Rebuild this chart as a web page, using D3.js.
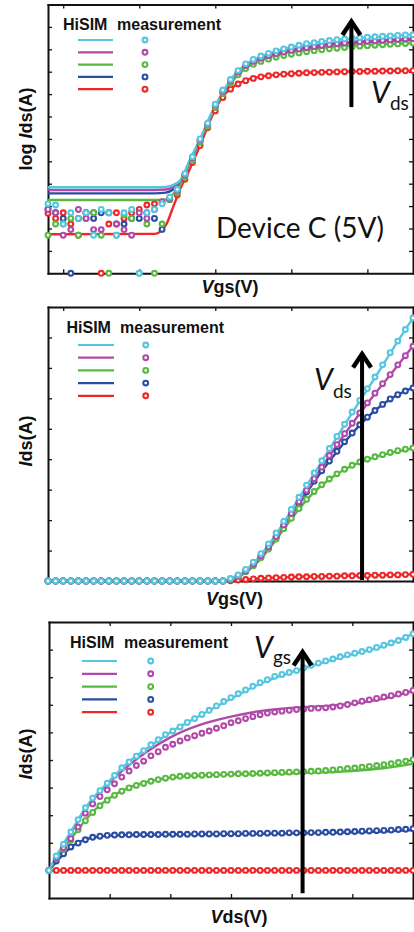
<!DOCTYPE html>
<html>
<head>
<meta charset="utf-8">
<script src="https://cdn.jsdelivr.net/npm/d3@7"></script>
<style>
body { margin: 0; background: #fff; }
svg { display: block; }
.lbl { font-family: 'Liberation Sans', Arial, sans-serif; font-weight: bold; fill: #111; }
.anno { font-family: Lato, 'Open Sans', sans-serif; fill: #111; }
</style>
</head>
<body>
<svg id="chart" width="414" height="932"></svg>
<script>
// series order: legend order top to bottom
var seriesColors = ['#55c6df', '#b04aa9', '#58b940', '#2a4ca2', '#ee2828'];

// ---- panel 1: log Ids vs Vgs (y in decades above the frame bottom) ----
var vgsSweep = [-0.2, -0.1, 0, 0.1, 0.2, 0.3, 0.4, 0.5, 0.6, 0.7, 0.8, 0.9, 1, 1.1, 1.2, 1.3, 1.4, 1.5, 1.6, 1.7,
	1.8, 1.9, 2, 2.1, 2.2, 2.3, 2.4, 2.5, 2.6, 2.7, 2.8, 2.9, 3, 3.1, 3.2, 3.3, 3.4, 3.5, 3.6, 3.7, 3.8, 3.9,
	4, 4.1, 4.2, 4.3, 4.4, 4.5, 4.6];

var logMeasCyan = [3.1, 3.05, 2.2, 2.7, 2.45, 2.7, 1.7, 2.85, 2.7, 1.7, 2.7, 2.85, 0, 2.7, 2.85, 3.1,
	3.4, 3.75, 4.45, 5.2, 6.0, 6.7, 7.55, 8.18, 8.65, 9.05, 9.35, 9.55, 9.7, 9.82, 9.93, 10.02, 10.1, 10.18,
	10.25, 10.3, 10.35, 10.39, 10.43, 10.46, 10.49, 10.52, 10.54, 10.56, 10.58, 10.6, 10.62, 10.64, 10.65];
var logMeasMagenta = [2.85, 2.7, 1.7, 1.95, 2.85, 2.45, 1.95, 1.95, 2.7, 2.2, 1.95, 1.7, 2.7, 2.45, 2.85, 3.2,
	3.35, 3.7, 4.4, 5.15, 5.95, 6.65, 7.5, 8.12, 8.58, 8.98, 9.27, 9.46, 9.6, 9.71, 9.8, 9.88, 9.95, 10.01,
	10.07, 10.12, 10.17, 10.21, 10.25, 10.28, 10.31, 10.34, 10.36, 10.38, 10.4, 10.42, 10.44, 10.46, 10.47];
var logMeasGreen = [1.7, 2.2, 2.2, 2.45, 1.7, 2.45, 2.7, 1.7, 0, 1.7, 2.6, 2.45, 0, 2.2, 0, 2.2,
	3.3, 3.6, 4.3, 5.05, 5.85, 6.55, 7.4, 8.02, 8.48, 8.86, 9.14, 9.33, 9.46, 9.56, 9.65, 9.72, 9.78, 9.84,
	9.89, 9.94, 9.98, 10.02, 10.05, 10.08, 10.11, 10.14, 10.16, 10.18, 10.2, 10.22, 10.24, 10.26, 10.28];
var logMeasBlue = [2.85, 2.7, 2.45, 0, 2.45, 2.7, 2.45, 2.7, 2.7, 2.2, 2.2, 2.45, 2.45, 2.7, 2.45, 1.96,
	3.3, 3.65, 4.38, 5.12, 5.92, 6.62, 7.46, 8.08, 8.54, 8.94, 9.23, 9.42, 9.56, 9.67, 9.77, 9.85, 9.92, 9.98,
	10.04, 10.09, 10.14, 10.18, 10.22, 10.25, 10.28, 10.31, 10.33, 10.35, 10.37, 10.39, 10.41, 10.43, 10.44];
var logMeasRed = [2.68, 2.45, 2.7, 2.2, 1.7, 2.7, 2.7, 0, 2.2, 2.7, 2.45, 2.7, 2.85, 3.05, 3.1, 3.15,
	3.3, 3.5, 4.2, 4.95, 5.7, 6.5, 7.25, 7.85, 8.22, 8.45, 8.6, 8.7, 8.77, 8.82, 8.86, 8.89, 8.91, 8.93,
	8.95, 8.96, 8.97, 8.98, 8.99, 9.0, 9.01, 9.01, 9.02, 9.02, 9.03, 9.03, 9.04, 9.04, 9.05];

var logModelVgs = [-0.2, 1.2, 1.35, 1.45, 1.55, 1.65, 1.8, 1.95, 2.1, 2.25, 2.4, 2.6, 2.85, 3.2, 3.6, 4.1, 4.6];
var logModelCyan = [3.84, 3.84, 3.86, 3.95, 4.2, 4.95, 6.0, 7.15, 8.1, 8.85, 9.32, 9.68, 9.97, 10.23, 10.42, 10.55, 10.66];
var logModelMagenta = [3.72, 3.72, 3.74, 3.85, 4.15, 4.9, 5.95, 7.1, 8.05, 8.78, 9.25, 9.6, 9.88, 10.1, 10.28, 10.38, 10.46];
var logModelGreen = [3.27, 3.27, 3.3, 3.55, 4.0, 4.82, 5.9, 7.05, 7.98, 8.68, 9.15, 9.5, 9.77, 9.97, 10.12, 10.21, 10.28];
var logModelBlue = [3.57, 3.57, 3.6, 3.75, 4.1, 4.88, 5.95, 7.1, 8.03, 8.75, 9.22, 9.57, 9.85, 10.07, 10.25, 10.35, 10.44];
var logModelRed = [1.74, 1.76, 2.15, 3.0, 3.85, 4.55, 5.7, 6.95, 7.9, 8.35, 8.62, 8.78, 8.88, 8.95, 9.0, 9.03, 9.05];

// ---- panel 2: linear Ids vs Vgs ----
var linMeasCyan = [0, 0, 0, 0, 0, 0, 0, 0, 0, 0, 0, 0, 0, 0, 0, 0, 0, 0, 0, 0, 0, 0, 0, 0,
	0.08, 0.2, 0.38, 0.62, 0.9, 1.22, 1.58, 1.96, 2.35, 2.75, 3.15, 3.55, 3.95, 4.35, 4.75, 5.15, 5.55, 5.93,
	6.32, 6.7, 7.1, 7.5, 7.88, 8.26, 8.64];
var linMeasMagenta = [0, 0, 0, 0, 0, 0, 0, 0, 0, 0, 0, 0, 0, 0, 0, 0, 0, 0, 0, 0, 0, 0, 0, 0,
	0.06, 0.17, 0.33, 0.55, 0.82, 1.12, 1.46, 1.84, 2.22, 2.6, 2.98, 3.36, 3.74, 4.12, 4.48, 4.84, 5.18, 5.52,
	5.85, 6.17, 6.48, 6.78, 7.1, 7.4, 7.71];
var linMeasGreen = [0, 0, 0, 0, 0, 0, 0, 0, 0, 0, 0, 0, 0, 0, 0, 0, 0, 0, 0, 0, 0, 0, 0, 0,
	0.05, 0.15, 0.3, 0.5, 0.76, 1.05, 1.38, 1.72, 2.06, 2.38, 2.68, 2.94, 3.16, 3.35, 3.52, 3.67, 3.8, 3.91,
	4.0, 4.08, 4.15, 4.22, 4.28, 4.33, 4.37];
var linMeasBlue = [0, 0, 0, 0, 0, 0, 0, 0, 0, 0, 0, 0, 0, 0, 0, 0, 0, 0, 0, 0, 0, 0, 0, 0,
	0.06, 0.16, 0.32, 0.53, 0.8, 1.1, 1.44, 1.8, 2.17, 2.55, 2.92, 3.28, 3.62, 3.94, 4.26, 4.57, 4.86, 5.13,
	5.38, 5.6, 5.8, 5.98, 6.12, 6.24, 6.34];
var linMeasRed = [0, 0, 0, 0, 0, 0, 0, 0, 0, 0, 0, 0, 0, 0, 0, 0, 0, 0, 0, 0, 0, 0, 0, 0,
	0.01, 0.03, 0.05, 0.07, 0.09, 0.1, 0.11, 0.12, 0.13, 0.14, 0.14, 0.15, 0.15, 0.16, 0.16, 0.17, 0.17, 0.18,
	0.18, 0.19, 0.19, 0.2, 0.2, 0.21, 0.22];

var linModelVgs = [-0.2, 2.1, 2.3, 2.5, 2.7, 2.9, 3.1, 3.3, 3.5, 3.7, 3.9, 4.1, 4.3, 4.6];
var linModelCyan = [0, 0, 0.17, 0.58, 1.18, 1.92, 2.72, 3.52, 4.33, 5.13, 5.91, 6.68, 7.48, 8.64];
var linModelMagenta = [0, 0, 0.15, 0.52, 1.09, 1.8, 2.57, 3.34, 4.1, 4.82, 5.5, 6.15, 6.77, 7.72];
var linModelGreen = [0, 0, 0.13, 0.48, 1.03, 1.7, 2.36, 2.92, 3.34, 3.66, 3.9, 4.07, 4.2, 4.36];
var linModelBlue = [0, 0, 0.14, 0.5, 1.07, 1.77, 2.52, 3.26, 3.93, 4.56, 5.12, 5.6, 5.97, 6.35];
var linModelRed = [0, 0, 0.03, 0.07, 0.1, 0.12, 0.14, 0.15, 0.16, 0.17, 0.18, 0.19, 0.2, 0.22];

// ---- panel 3: Ids vs Vds ----
var vdsSweep = [0, 0.12, 0.24, 0.36, 0.48, 0.6, 0.72, 0.84, 0.96, 1.08, 1.2, 1.32, 1.44, 1.56, 1.68, 1.8,
	1.92, 2.04, 2.16, 2.28, 2.4, 2.52, 2.64, 2.76, 2.88, 3, 3.12, 3.24, 3.36, 3.48, 3.6, 3.72, 3.84, 3.96,
	4.08, 4.2, 4.32, 4.44, 4.56, 4.68, 4.8, 4.92, 5.04, 5.16, 5.28, 5.4, 5.52, 5.64, 5.76, 5.88, 6];

var outMeasCyan = [0, 0.52, 0.95, 1.39, 1.84, 2.27, 2.62, 2.89, 3.16, 3.44, 3.72, 3.93, 4.14, 4.34, 4.55, 4.74,
	4.92, 5.05, 5.2, 5.36, 5.5, 5.65, 5.8, 5.96, 6.12, 6.26, 6.4, 6.54, 6.67, 6.8, 6.91, 7.03, 7.1, 7.17,
	7.24, 7.34, 7.43, 7.51, 7.59, 7.66, 7.74, 7.81, 7.87, 7.93, 8.0, 8.08, 8.16, 8.24, 8.33, 8.44, 8.57];
var outMeasMagenta = [0, 0.45, 0.82, 1.15, 1.57, 2.07, 2.41, 2.68, 2.92, 3.14, 3.38, 3.6, 3.8, 3.96, 4.15, 4.3,
	4.46, 4.57, 4.69, 4.8, 4.88, 4.97, 5.05, 5.15, 5.24, 5.35, 5.42, 5.5, 5.57, 5.64, 5.7, 5.74, 5.77, 5.8,
	5.83, 5.85, 5.87, 5.88, 5.89, 5.92, 5.96, 6.01, 6.07, 6.13, 6.18, 6.23, 6.28, 6.33, 6.39, 6.45, 6.52];
var outMeasGreen = [0, 0.42, 0.76, 1.09, 1.47, 1.8, 2.1, 2.34, 2.54, 2.72, 2.87, 2.99, 3.08, 3.15, 3.23, 3.29,
	3.34, 3.38, 3.41, 3.43, 3.44, 3.45, 3.46, 3.47, 3.48, 3.49, 3.5, 3.5, 3.51, 3.52, 3.53, 3.54, 3.55, 3.56,
	3.57, 3.58, 3.59, 3.6, 3.62, 3.64, 3.66, 3.69, 3.71, 3.74, 3.77, 3.8, 3.83, 3.87, 3.91, 3.96, 4.01];
var outMeasBlue = [0, 0.34, 0.6, 0.85, 0.99, 1.11, 1.2, 1.24, 1.27, 1.28, 1.29, 1.29, 1.3, 1.3, 1.3, 1.3,
	1.31, 1.31, 1.31, 1.31, 1.32, 1.32, 1.32, 1.32, 1.33, 1.33, 1.33, 1.34, 1.34, 1.34, 1.35, 1.35, 1.35, 1.36,
	1.36, 1.36, 1.37, 1.37, 1.38, 1.38, 1.39, 1.4, 1.41, 1.42, 1.43, 1.44, 1.45, 1.46, 1.48, 1.49, 1.51];
var outMeasRed = [0, 0, 0, 0, 0, 0, 0, 0, 0, 0, 0, 0, 0, 0, 0, 0, 0, 0, 0, 0, 0, 0, 0, 0, 0, 0,
	0, 0, 0, 0, 0, 0, 0, 0, 0, 0, 0, 0, 0, 0, 0, 0, 0, 0, 0, 0, 0, 0, 0, 0, 0];

var outModelVds = [0, 0.2, 0.4, 0.6, 0.8, 1.0, 1.3, 1.6, 2.0, 2.5, 3.0, 3.5, 4.0, 4.5, 5.0, 5.5, 6.0];
var outModelCyan = [0, 0.82, 1.55, 2.26, 2.8, 3.25, 3.9, 4.4, 5.0, 5.62, 6.22, 6.78, 7.18, 7.52, 7.83, 8.12, 8.57];
var outModelMagenta = [0, 0.8, 1.5, 2.2, 2.75, 3.2, 3.78, 4.28, 4.82, 5.28, 5.57, 5.78, 5.89, 5.95, 6.04, 6.22, 6.5];
var outModelGreen = [0, 0.68, 1.25, 1.82, 2.28, 2.62, 2.98, 3.2, 3.36, 3.44, 3.48, 3.5, 3.52, 3.55, 3.6, 3.7, 3.86];
var outModelBlue = [0, 0.5, 0.9, 1.12, 1.22, 1.26, 1.28, 1.29, 1.3, 1.31, 1.32, 1.33, 1.34, 1.36, 1.38, 1.41, 1.46];
var outModelRed = [0, 0, 0, 0, 0, 0, 0, 0, 0, 0, 0, 0, 0, 0, 0, 0, 0];

// panel layout
var panels = [
	{
		left: 48, right: 413, top: 4.5, bottom: 273.3,
		xDomain: [-0.2, 4.6], yDomain: [0, 12],
		xTicks: [0, 1, 2, 3, 4], yTicks: [1, 2, 3, 4, 5, 6, 7, 8, 9, 10, 11],
		sweep: vgsSweep,
		meas: [logMeasCyan, logMeasMagenta, logMeasGreen, logMeasBlue, logMeasRed],
		modelX: logModelVgs,
		model: [logModelCyan, logModelMagenta, logModelGreen, logModelBlue, logModelRed],
		xLabel: { x: 230, y: 293, sub: 'gs(V)', main: 'V' },
		yLabel: { x: 31.5, y: 129, pre: 'log ' },
		legend: { x: 63, mx: 117, y: 29.5, first: 10.5, dy: 12.3, lx: [78, 113], cx: 145 },
		arrow: { x: 3.79, from: 7.42, to: 11.4 },
		arrowText: { x: 371, y: 103, sub: 'ds', subDy: 7 },
		note: { text: 'Device C (5V)', x: 216, y: 238 }
	},
	{
		left: 48, right: 413, top: 307, bottom: 581,
		xDomain: [-0.2, 4.6], yDomain: [0, 9],
		xTicks: [0, 1, 2, 3, 4], yTicks: [1, 2, 3, 4, 5, 6, 7, 8],
		sweep: vgsSweep,
		meas: [linMeasCyan, linMeasMagenta, linMeasGreen, linMeasBlue, linMeasRed],
		modelX: linModelVgs,
		model: [linModelCyan, linModelMagenta, linModelGreen, linModelBlue, linModelRed],
		xLabel: { x: 234.5, y: 604.5, sub: 'gs(V)', main: 'V' },
		yLabel: { x: 31.5, y: 441, pre: '' },
		legend: { x: 66.5, mx: 120, y: 333, first: 12, dy: 12.7, lx: [78, 114], cx: 145.7 },
		arrow: { x: 3.93, from: 0.03, to: 7.57 },
		arrowText: { x: 314, y: 390, sub: 'ds', subDy: 8 }
	},
	{
		left: 49, right: 413, top: 622, bottom: 898,
		xDomain: [0, 6], yDomain: [-1, 9],
		xTicks: [1, 2, 3, 4, 5], yTicks: [0, 1, 2, 3, 4, 5, 6, 7, 8],
		sweep: vdsSweep,
		meas: [outMeasCyan, outMeasMagenta, outMeasGreen, outMeasBlue, outMeasRed],
		modelX: outModelVds,
		model: [outModelCyan, outModelMagenta, outModelGreen, outModelBlue, outModelRed],
		xLabel: { x: 239, y: 923, sub: 'ds(V)', main: 'V' },
		yLabel: { x: 31.5, y: 754, pre: '' },
		legend: { x: 70, mx: 124, y: 648, first: 13, dy: 12.8, lx: [82, 117], cx: 150.7 },
		arrow: { x: 4.18, from: -0.83, to: 8.04 },
		arrowText: { x: 254, y: 658, sub: 'gs', subDy: 6 }
	}
];

var svg = d3.select('#chart');
svg.append('rect').attr('width', 414).attr('height', 932).attr('fill', '#fff');

panels.forEach(drawPanel);

function drawPanel(p) {
	var x = d3.scaleLinear().domain(p.xDomain).range([p.left, p.right]);
	var y = d3.scaleLinear().domain(p.yDomain).range([p.bottom, p.top]);
	var g = svg.append('g');

	// frame: four axes with inward ticks, no labels
	var axes = [
		[d3.axisBottom(x).tickValues(p.xTicks), 'translate(0,' + p.bottom + ')'],
		[d3.axisTop(x).tickValues(p.xTicks), 'translate(0,' + p.top + ')'],
		[d3.axisLeft(y).tickValues(p.yTicks), 'translate(' + p.left + ',0)'],
		[d3.axisRight(y).tickValues(p.yTicks), 'translate(' + p.right + ',0)']
	];
	axes.forEach(function(a) {
		var ax = g.append('g').attr('transform', a[1])
			.call(a[0].tickSizeInner(-4).tickSizeOuter(0).tickFormat(''));
		ax.select('.domain').attr('stroke', '#111').attr('stroke-width', 2)
			.attr('stroke-linecap', 'square');
		ax.selectAll('.tick line').attr('stroke', '#111').attr('stroke-width', 1.3);
	});

	// HiSIM model lines
	var line = d3.line().curve(d3.curveMonotoneX)
		.x(function(d) { return x(d[0]); })
		.y(function(d) { return y(d[1]); });
	for (var s = 4; s >= 0; s--) {
		var pts = p.modelX.map(function(v, i) { return [v, p.model[s][i]]; });
		g.append('path').attr('d', line(pts)).attr('fill', 'none')
			.attr('stroke', seriesColors[s]).attr('stroke-width', 2.4);
	}

	// measurement markers
	for (s = 4; s >= 0; s--) {
		g.append('g').selectAll('circle').data(p.meas[s]).enter().append('circle')
			.attr('cx', function(d, i) { return x(p.sweep[i]); })
			.attr('cy', function(d) { return y(d); })
			.attr('r', 2.4)
			.attr('fill', '#fff')
			.attr('stroke', seriesColors[s])
			.attr('stroke-width', 2.1);
	}

	// legend
	var L = p.legend;
	g.append('text').attr('class', 'lbl').attr('x', L.x).attr('y', L.y)
		.attr('font-size', 16).text('HiSIM');
	g.append('text').attr('class', 'lbl').attr('x', L.mx).attr('y', L.y)
		.attr('font-size', 16).text('measurement');
	seriesColors.forEach(function(c, i) {
		var yy = L.y + L.first + i * L.dy;
		g.append('line').attr('x1', L.lx[0]).attr('x2', L.lx[1]).attr('y1', yy).attr('y2', yy)
			.attr('stroke', c).attr('stroke-width', 2.2);
		g.append('circle').attr('cx', L.cx).attr('cy', yy).attr('r', 2.4)
			.attr('fill', '#fff').attr('stroke', c).attr('stroke-width', 2.1);
	});

	// axis titles
	var xt = g.append('text').attr('class', 'lbl').attr('x', p.xLabel.x).attr('y', p.xLabel.y)
		.attr('font-size', 18).attr('text-anchor', 'middle');
	xt.append('tspan').attr('font-style', 'italic').text(p.xLabel.main);
	xt.append('tspan').text(p.xLabel.sub);

	var yt = g.append('text').attr('class', 'lbl').attr('font-size', 18).attr('text-anchor', 'middle')
		.attr('transform', 'translate(' + p.yLabel.x + ',' + p.yLabel.y + ') rotate(-90)');
	if (p.yLabel.pre) yt.append('tspan').text(p.yLabel.pre);
	yt.append('tspan').attr('font-style', 'italic').text('I');
	yt.append('tspan').text('ds(A)');

	// bias arrow
	var axp = x(p.arrow.x), yTip = y(p.arrow.to);
	g.append('line').attr('x1', axp).attr('x2', axp)
		.attr('y1', y(p.arrow.from)).attr('y2', yTip + 3)
		.attr('stroke', '#000').attr('stroke-width', 4);
	g.append('path')
		.attr('d', 'M' + (axp - 9) + ',' + (yTip + 17) + 'L' + axp + ',' + (yTip + 3.5) + 'L' + (axp + 9) + ',' + (yTip + 17))
		.attr('fill', 'none').attr('stroke', '#000').attr('stroke-width', 4.5)
		.attr('stroke-linejoin', 'miter');

	var at = g.append('text').attr('class', 'anno').attr('x', p.arrowText.x).attr('y', p.arrowText.y);
	at.append('tspan').attr('font-size', 30).attr('font-style', 'italic').text('V');
	at.append('tspan').attr('font-size', 19).attr('dy', p.arrowText.subDy).text(p.arrowText.sub);

	if (p.note) {
		g.append('text').attr('class', 'anno').attr('x', p.note.x).attr('y', p.note.y)
			.attr('font-size', 28).text(p.note.text);
	}
}
</script>
</body>
</html>
